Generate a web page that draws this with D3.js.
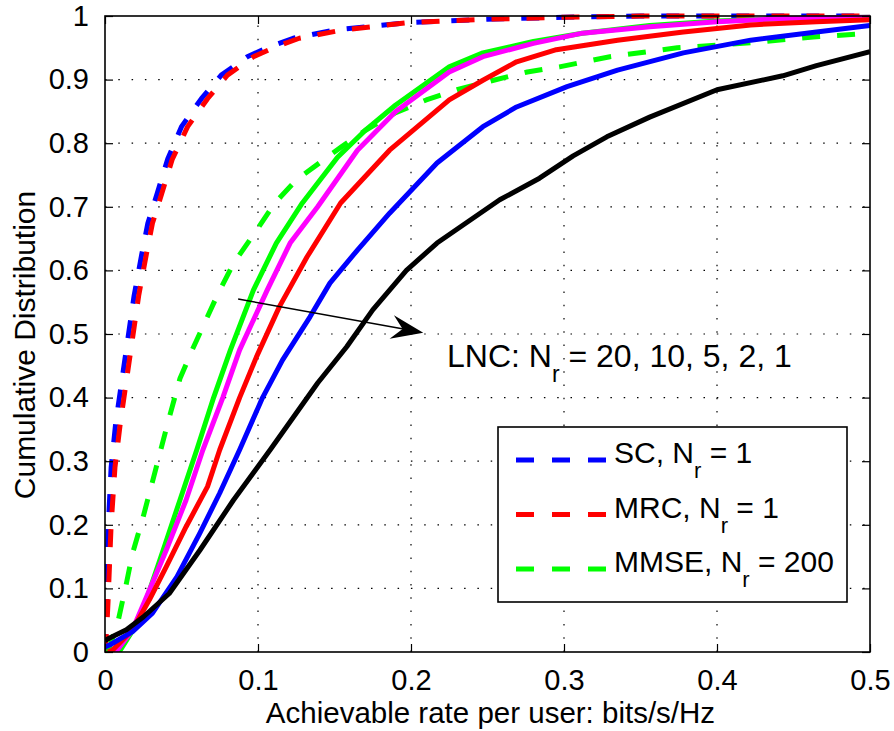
<!DOCTYPE html>
<html>
<head>
<meta charset="utf-8">
<script src="https://cdn.jsdelivr.net/npm/d3@7/dist/d3.min.js"></script>
<style>
  html, body { margin: 0; padding: 0; background: #fff; }
  svg { display: block; }
  text { font-family: "Liberation Sans", Arial, sans-serif; fill: #000; }
</style>
</head>
<body>
<svg id="chart" width="894" height="731"></svg>
<script>
// CDF curves of the per-user achievable rate (bits/s/Hz)
const xTicks = [0, 0.1, 0.2, 0.3, 0.4, 0.5];
const yTicks = [0, 0.1, 0.2, 0.3, 0.4, 0.5, 0.6, 0.7, 0.8, 0.9, 1];
const xTickLabels = ["0", "0.1", "0.2", "0.3", "0.4", "0.5"];
const yTickLabels = ["0", "0.1", "0.2", "0.3", "0.4", "0.5", "0.6", "0.7", "0.8", "0.9", "1"];

// SC, Nr = 1 (dashed blue)
const scX = [0, 0.001, 0.002, 0.004, 0.007, 0.01, 0.013, 0.016, 0.019, 0.024, 0.028, 0.034, 0.041, 0.050, 0.063, 0.076, 0.093, 0.108, 0.123, 0.15, 0.2, 0.25, 0.3, 0.35, 0.5];
const scY = [0, 0.1, 0.19, 0.29, 0.36, 0.41, 0.46, 0.51, 0.56, 0.625, 0.674, 0.72, 0.775, 0.826, 0.87, 0.907, 0.936, 0.952, 0.965, 0.978, 0.99, 0.995, 0.998, 1, 1];
// MRC, Nr = 1 (dashed red)
const mrcX = [0, 0.001, 0.002, 0.004, 0.0065, 0.01, 0.013, 0.016, 0.019, 0.022, 0.027, 0.031, 0.037, 0.044, 0.054, 0.067, 0.08, 0.097, 0.112, 0.127, 0.155, 0.2, 0.25, 0.3, 0.35, 0.5];
const mrcY = [0, 0.03, 0.08, 0.2, 0.29, 0.36, 0.41, 0.46, 0.51, 0.56, 0.625, 0.674, 0.72, 0.775, 0.826, 0.87, 0.907, 0.936, 0.952, 0.965, 0.978, 0.99, 0.995, 0.998, 1, 1];
// MMSE, Nr = 200 (dashed green)
const mmseX = [0.002, 0.0087, 0.014, 0.018, 0.025, 0.033, 0.041, 0.049, 0.057, 0.065, 0.074, 0.084, 0.099, 0.111, 0.125, 0.143, 0.155, 0.17, 0.19, 0.21, 0.23, 0.254, 0.276, 0.297, 0.33, 0.374, 0.417, 0.463, 0.5];
const mmseY = [0, 0.05, 0.108, 0.155, 0.213, 0.286, 0.36, 0.43, 0.475, 0.517, 0.564, 0.611, 0.663, 0.706, 0.742, 0.774, 0.795, 0.82, 0.848, 0.868, 0.884, 0.899, 0.912, 0.92, 0.936, 0.95, 0.957, 0.967, 0.973];

// LNC curves, Nr = 20, 10, 5, 2, 1 (solid)
const lnc20X = [0.005, 0.01, 0.021, 0.027, 0.038, 0.049, 0.06, 0.071, 0.082, 0.097, 0.112, 0.129, 0.152, 0.17, 0.19, 0.225, 0.247, 0.28, 0.312, 0.356, 0.40, 0.443, 0.5];
const lnc20Y = [0, 0.003, 0.045, 0.082, 0.16, 0.239, 0.318, 0.40, 0.475, 0.569, 0.643, 0.706, 0.778, 0.82, 0.86, 0.92, 0.942, 0.96, 0.973, 0.985, 0.992, 0.996, 0.998];
const lnc10X = [0.004, 0.008, 0.018, 0.029, 0.04, 0.053, 0.064, 0.077, 0.088, 0.106, 0.121, 0.139, 0.165, 0.19, 0.225, 0.247, 0.28, 0.312, 0.356, 0.40, 0.443, 0.5];
const lnc10Y = [0, 0.003, 0.035, 0.097, 0.16, 0.239, 0.318, 0.40, 0.475, 0.569, 0.643, 0.70, 0.789, 0.85, 0.912, 0.936, 0.957, 0.973, 0.983, 0.991, 0.996, 0.998];
const lnc5X = [0.002, 0.005, 0.018, 0.029, 0.04, 0.053, 0.067, 0.075, 0.088, 0.099, 0.114, 0.132, 0.154, 0.186, 0.225, 0.247, 0.269, 0.295, 0.335, 0.378, 0.422, 0.465, 0.5];
const lnc5Y = [0, 0.003, 0.035, 0.082, 0.134, 0.197, 0.26, 0.318, 0.40, 0.464, 0.543, 0.621, 0.706, 0.789, 0.868, 0.899, 0.928, 0.947, 0.962, 0.975, 0.986, 0.991, 0.994];
const lnc2X = [0, 0.003, 0.018, 0.031, 0.047, 0.062, 0.075, 0.088, 0.103, 0.116, 0.134, 0.147, 0.165, 0.186, 0.217, 0.247, 0.269, 0.302, 0.335, 0.378, 0.422, 0.465, 0.5];
const lnc2Y = [0.008, 0.011, 0.032, 0.061, 0.118, 0.187, 0.25, 0.318, 0.40, 0.459, 0.527, 0.58, 0.632, 0.69, 0.769, 0.826, 0.857, 0.889, 0.915, 0.942, 0.962, 0.975, 0.985];
const lnc1X = [0, 0.003, 0.014, 0.025, 0.042, 0.062, 0.084, 0.108, 0.139, 0.158, 0.175, 0.197, 0.217, 0.258, 0.284, 0.306, 0.328, 0.356, 0.40, 0.443, 0.465, 0.5];
const lnc1Y = [0.018, 0.022, 0.035, 0.055, 0.092, 0.16, 0.239, 0.318, 0.423, 0.48, 0.538, 0.60, 0.643, 0.711, 0.745, 0.78, 0.81, 0.841, 0.884, 0.906, 0.922, 0.944];

const legendLabels = [["SC, N", "r", " = 1"], ["MRC, N", "r", " = 1"], ["MMSE, N", "r", " = 200"]];
const annotationParts = ["LNC: N", "r", " = 20, 10, 5, 2, 1"];

const series = [
  { x: scX, y: scY, color: "#0000ff", dashed: true },
  { x: mrcX, y: mrcY, color: "#ff0000", dashed: true },
  { x: mmseX, y: mmseY, color: "#00ff00", dashed: true },
  { x: lnc20X, y: lnc20Y, color: "#00ff00", dashed: false },
  { x: lnc10X, y: lnc10Y, color: "#ff00ff", dashed: false },
  { x: lnc5X, y: lnc5Y, color: "#ff0000", dashed: false },
  { x: lnc2X, y: lnc2Y, color: "#0000ff", dashed: false },
  { x: lnc1X, y: lnc1Y, color: "#000000", dashed: false }
];

const svg = d3.select("#chart");
const pLeft = 105, pRight = 870, pTop = 16, pBottom = 652;
const x = d3.scaleLinear().domain([0, 0.5]).range([pLeft, pRight]);
const y = d3.scaleLinear().domain([0, 1]).range([pBottom, pTop]);

// dotted grid
const grid = svg.append("g").attr("stroke", "#000").attr("stroke-width", 1.2)
  .attr("stroke-dasharray", "1.5,11.8");
xTicks.slice(1, -1).forEach(v => {
  grid.append("line").attr("x1", x(v)).attr("x2", x(v)).attr("y1", pBottom).attr("y2", pTop);
});
yTicks.slice(1, -1).forEach(v => {
  grid.append("line").attr("x1", pLeft).attr("x2", pRight).attr("y1", y(v)).attr("y2", y(v));
});

// curves
svg.append("clipPath").attr("id", "plotclip").append("rect")
  .attr("x", pLeft).attr("y", pTop - 3).attr("width", pRight - pLeft).attr("height", pBottom - pTop + 3);
const plot = svg.append("g").attr("clip-path", "url(#plotclip)");
const line = d3.line().x(d => x(d[0])).y(d => y(d[1]));
series.forEach(s => {
  plot.append("path")
    .datum(s.x.map((v, i) => [v, s.y[i]]))
    .attr("d", line)
    .attr("fill", "none")
    .attr("stroke", s.color)
    .attr("stroke-width", 5)
    .attr("stroke-linejoin", "round")
    .attr("stroke-dasharray", s.dashed ? "18,17" : null);
});

// axes (inward ticks, mirrored on the opposite sides)
const tickLen = 8;
const fs = 29;
const xAxisB = d3.axisBottom(x).tickValues(xTicks).tickSize(-tickLen).tickPadding(tickLen + 9)
  .tickFormat((d, i) => xTickLabels[i]);
const yAxisL = d3.axisLeft(y).tickValues(yTicks).tickSize(-tickLen).tickPadding(tickLen + 8)
  .tickFormat((d, i) => yTickLabels[i]);
const xAxisT = d3.axisTop(x).tickValues(xTicks).tickSize(-tickLen).tickFormat("");
const yAxisR = d3.axisRight(y).tickValues(yTicks).tickSize(-tickLen).tickFormat("");

function styleAxis(g) {
  g.selectAll("path.domain").remove();
  g.selectAll(".tick line").attr("stroke", "#000").attr("stroke-width", 1.2);
  g.selectAll(".tick text").attr("font-size", fs).attr("font-family", "Liberation Sans, Arial, sans-serif").attr("fill", "#000");
}
svg.append("g").attr("transform", `translate(0,${pBottom})`).call(xAxisB).call(styleAxis);
svg.append("g").attr("transform", `translate(${pLeft},0)`).call(yAxisL).call(styleAxis);
svg.append("g").attr("transform", `translate(0,${pTop})`).call(xAxisT).call(styleAxis);
svg.append("g").attr("transform", `translate(${pRight},0)`).call(yAxisR).call(styleAxis);
svg.append("rect").attr("x", pLeft).attr("y", pTop).attr("width", pRight - pLeft).attr("height", pBottom - pTop)
  .attr("fill", "none").attr("stroke", "#000").attr("stroke-width", 1.6);

// axis titles
svg.append("text").attr("x", (pLeft + pRight) / 2 + 3).attr("y", 723).attr("text-anchor", "middle")
  .attr("font-size", 29.5).text("Achievable rate per user: bits/s/Hz");
svg.append("text").attr("transform", "translate(35,345) rotate(-90)").attr("text-anchor", "middle")
  .attr("font-size", 30).text("Cumulative Distribution");

// annotation arrow
const arrowStart = [0.087, 0.555], arrowEnd = [0.208, 0.502];
const ax0 = x(arrowStart[0]), ay0 = y(arrowStart[1]), ax1 = x(arrowEnd[0]), ay1 = y(arrowEnd[1]);
svg.append("line").attr("x1", ax0).attr("y1", ay0).attr("x2", ax1 - 10).attr("y2", ay1 - 2)
  .attr("stroke", "#000").attr("stroke-width", 1.5);
const ang = Math.atan2(ay1 - ay0, ax1 - ax0);
const hl = 32, hw = 12, notch = 21;
function rot(px, py) {
  return [ax1 + px * Math.cos(ang) - py * Math.sin(ang), ay1 + px * Math.sin(ang) + py * Math.cos(ang)];
}
const head = [rot(0, 0), rot(-hl, -hw), rot(-notch, 0), rot(-hl, hw)];
svg.append("path").attr("d", "M" + head.map(p => p.join(",")).join("L") + "Z").attr("fill", "#000");

// annotation text
const ann = svg.append("text").attr("x", 447).attr("y", 367).attr("font-size", 32);
ann.append("tspan").text(annotationParts[0]);
ann.append("tspan").attr("dy", 15).attr("font-size", 23).text(annotationParts[1]);
ann.append("tspan").attr("dy", -15).text(annotationParts[2]);

// legend
const lg = svg.append("g");
lg.append("rect").attr("x", 498).attr("y", 427).attr("width", 349).attr("height", 175)
  .attr("fill", "#fff").attr("stroke", "#000").attr("stroke-width", 1.6);
series.slice(0, 3).forEach((s, i) => {
  const ly = 460 + i * 54.5;
  lg.append("line").attr("x1", 516).attr("x2", 606).attr("y1", ly).attr("y2", ly)
    .attr("stroke", s.color).attr("stroke-width", 5).attr("stroke-dasharray", "18,18");
  const t = lg.append("text").attr("x", 614).attr("y", ly + 3).attr("font-size", 30);
  t.append("tspan").text(legendLabels[i][0]);
  t.append("tspan").attr("dy", 15).attr("font-size", 22).text(legendLabels[i][1]);
  t.append("tspan").attr("dy", -15).text(legendLabels[i][2]);
});
</script>
</body>
</html>
